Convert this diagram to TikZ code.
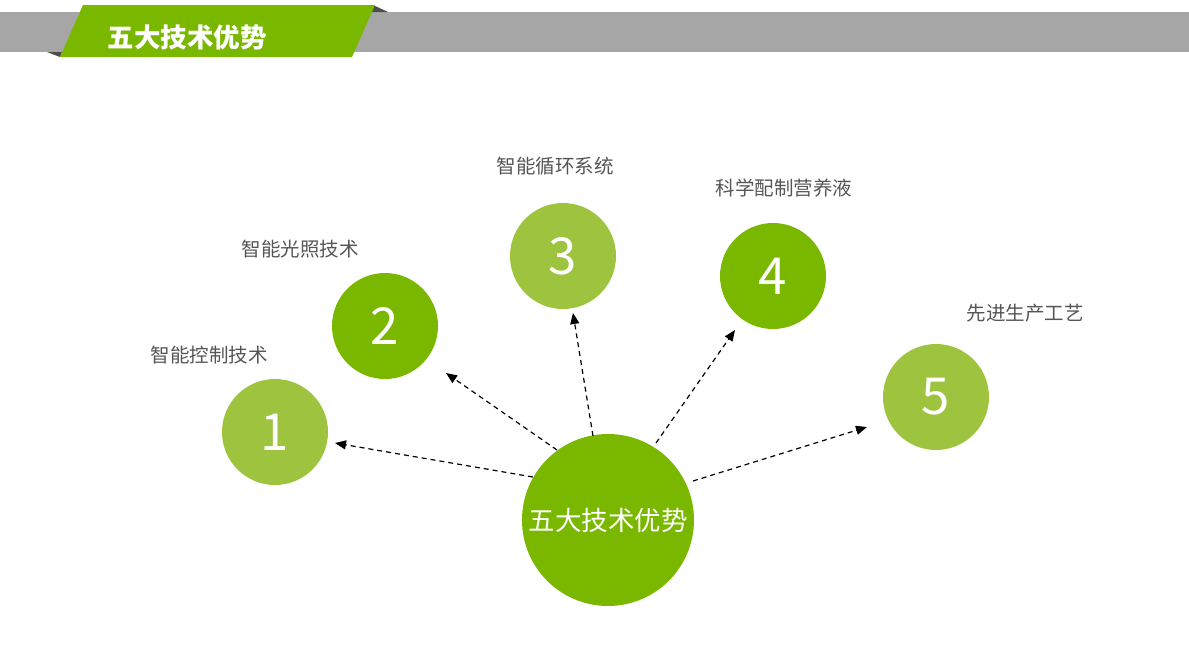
\documentclass[tikz,border=0pt]{standalone}
\usepackage{fontspec}
\setmainfont{Noto Sans CJK SC}
\usetikzlibrary{arrows.meta}
\definecolor{dkgreen}{HTML}{7AB800}
\definecolor{ltgreen}{HTML}{9DC33F}
\definecolor{bandgray}{HTML}{A6A6A6}
\definecolor{shadowgray}{HTML}{4D4D4D}
\definecolor{labelgray}{HTML}{555555}
\begin{document}
\begin{tikzpicture}[x=1pt,y=-1pt,
  numcircle/.style={circle, minimum size=106pt, inner sep=0pt, text=white,
    font=\fontsize{51}{51}\selectfont},
  hub/.style={circle, minimum size=172pt, inner sep=0pt, fill=dkgreen, text=white,
    font=\fontsize{26.5}{28}\selectfont},
  lbl/.style={text=labelgray, inner sep=0pt, font=\fontsize{19.5}{21}\selectfont},
  arr/.style={line width=1.2pt, dash pattern=on 5pt off 4pt,
    -{Triangle[length=11pt,width=9pt]}}
]
\useasboundingbox (0,0) rectangle (1189,662);
% header band
\fill[bandgray] (0,12) rectangle (1189,52);
\fill[shadowgray] (47,52) -- (62,52) -- (60,57) -- cycle;
\fill[shadowgray] (373,5) -- (388,12) -- (371,12) -- cycle;
\fill[dkgreen] (83,5) -- (375,5) -- (352,57) -- (60,57) -- cycle;
\node[text=white, font=\fontsize{26.5}{28}\selectfont\bfseries] (title) at (187,37) {五大技术优势};

% circles
\node[hub] (hub) at (608,520) {五大技术优势};
\node[numcircle, fill=ltgreen] (c1) at (275,432) {1};
\node[numcircle, fill=dkgreen] (c2) at (385,326) {2};
\node[numcircle, fill=ltgreen] (c3) at (563,256) {3};
\node[numcircle, fill=dkgreen] (c4) at (773,276) {4};
\node[numcircle, fill=ltgreen] (c5) at (936,397) {5};

% labels
\node[lbl] (l1) at (209,355) {智能控制技术};
\node[lbl] (l2) at (300,249) {智能光照技术};
\node[lbl] (l3) at (555,166) {智能循环系统};
\node[lbl] (l4) at (784,188) {科学配制营养液};
\node[lbl] (l5) at (1025,313) {先进生产工艺};

% arrow ends
\coordinate (s1) at (533,477); \coordinate (e1) at (335,443);
\coordinate (s2) at (557,450); \coordinate (e2) at (446,373);
\coordinate (s3) at (593,436); \coordinate (e3) at (573,313);
\coordinate (s4) at (656,443); \coordinate (e4) at (735,330);
\coordinate (s5) at (693,481); \coordinate (e5) at (867,427);
\draw[arr] (s1) -- (e1);
\draw[arr] (s2) -- (e2);
\draw[arr] (s3) -- (e3);
\draw[arr] (s4) -- (e4);
\draw[arr] (s5) -- (e5);
\end{tikzpicture}
\end{document}
